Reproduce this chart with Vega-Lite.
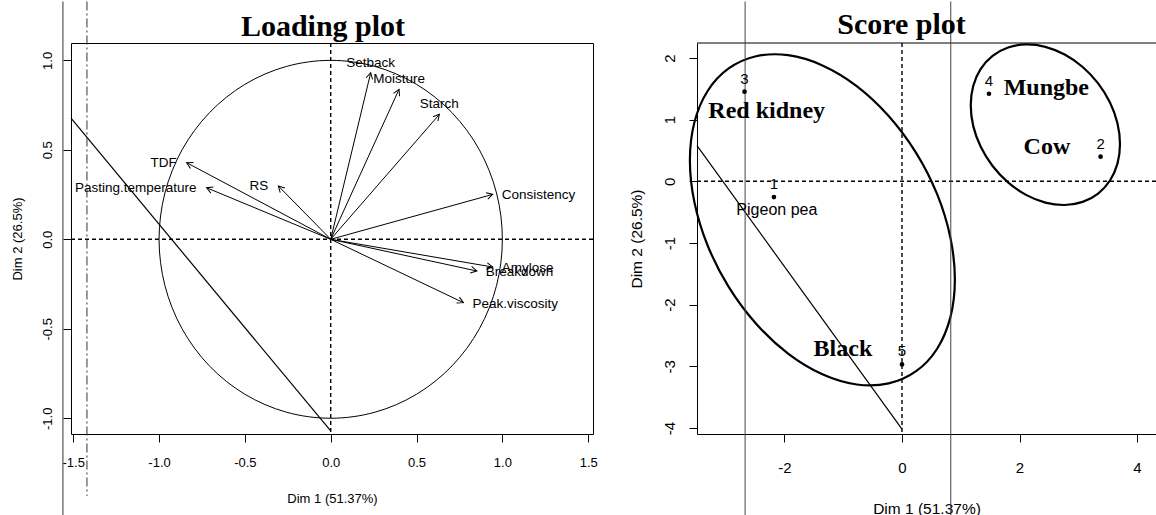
{
  "$schema": "https://vega.github.io/schema/vega-lite/v6.json",
  "padding": {"left": 11, "top": 0, "right": 0, "bottom": 0},
  "background": "white",
  "spacing": 104,
  "bounds": "flush",
  "config": {
    "view": {"stroke": "black", "strokeWidth": 1},
    "font": "Liberation Sans",
    "axis": {"grid": false, "domain": false, "tickColor": "black", "labelColor": "black", "titleColor": "black", "labelFont": "Liberation Sans", "titleFont": "Liberation Sans", "titleFontWeight": "normal", "labelFlush": false, "labelOverlap": false, "tickSize": 8, "tickWidth": 1, "domainColor": "black", "domainWidth": 1},
    "title": {"font": "Liberation Serif", "fontWeight": "bold", "color": "black"}
  },
  "datasets": {
    "zero": [{"v": 0}],
    "circle": [
      {"t": 0, "x": 1, "y": 0}, {"t": 15, "x": 0.9659, "y": 0.2588}, {"t": 30, "x": 0.866, "y": 0.5}, {"t": 45, "x": 0.7071, "y": 0.7071},
      {"t": 60, "x": 0.5, "y": 0.866}, {"t": 75, "x": 0.2588, "y": 0.9659}, {"t": 90, "x": 0, "y": 1}, {"t": 105, "x": -0.2588, "y": 0.9659},
      {"t": 120, "x": -0.5, "y": 0.866}, {"t": 135, "x": -0.7071, "y": 0.7071}, {"t": 150, "x": -0.866, "y": 0.5}, {"t": 165, "x": -0.9659, "y": 0.2588},
      {"t": 180, "x": -1, "y": 0}, {"t": 195, "x": -0.9659, "y": -0.2588}, {"t": 210, "x": -0.866, "y": -0.5}, {"t": 225, "x": -0.7071, "y": -0.7071},
      {"t": 240, "x": -0.5, "y": -0.866}, {"t": 255, "x": -0.2588, "y": -0.9659}, {"t": 270, "x": 0, "y": -1}, {"t": 285, "x": 0.2588, "y": -0.9659},
      {"t": 300, "x": 0.5, "y": -0.866}, {"t": 315, "x": 0.7071, "y": -0.7071}, {"t": 330, "x": 0.866, "y": -0.5}, {"t": 345, "x": 0.9659, "y": -0.2588}
    ],
    "vars": [
      {"name": "Setback", "x": 0.233, "y": 0.931},
      {"name": "Moisture", "x": 0.398, "y": 0.838},
      {"name": "Starch", "x": 0.633, "y": 0.698},
      {"name": "Consistency", "x": 0.944, "y": 0.251},
      {"name": "Amylose", "x": 0.944, "y": -0.155},
      {"name": "Breakdown", "x": 0.851, "y": -0.177},
      {"name": "Peak.viscosity", "x": 0.773, "y": -0.354},
      {"name": "TDF", "x": -0.839, "y": 0.428},
      {"name": "Pasting.temperature", "x": -0.723, "y": 0.288},
      {"name": "RS", "x": -0.305, "y": 0.298}
    ],
    "diagL": [{"x": -1.513, "y": 0.677, "x2": 0.0, "y2": -1.071}],
    "scanL": [{"x": -1.56, "y": 1.329, "x2": -1.56, "y2": -1.543}],
    "dashL": [{"x": -1.42, "y": 1.329, "x2": -1.42, "y2": -1.434}],
    "ellipses": [
      {"g": "A", "t": 0, "x": 0.9, "y": -1.592}, {"g": "A", "t": 15, "x": 0.823, "y": -0.911}, {"g": "A", "t": 30, "x": 0.598, "y": -0.209},
      {"g": "A", "t": 45, "x": 0.24, "y": 0.462}, {"g": "A", "t": 60, "x": -0.227, "y": 1.06}, {"g": "A", "t": 75, "x": -0.771, "y": 1.545},
      {"g": "A", "t": 90, "x": -1.355, "y": 1.88}, {"g": "A", "t": 105, "x": -1.939, "y": 2.045}, {"g": "A", "t": 120, "x": -2.483, "y": 2.028},
      {"g": "A", "t": 135, "x": -2.95, "y": 1.83}, {"g": "A", "t": 150, "x": -3.308, "y": 1.465}, {"g": "A", "t": 165, "x": -3.533, "y": 0.957},
      {"g": "A", "t": 180, "x": -3.61, "y": 0.342}, {"g": "A", "t": 195, "x": -3.533, "y": -0.339}, {"g": "A", "t": 210, "x": -3.308, "y": -1.041},
      {"g": "A", "t": 225, "x": -2.95, "y": -1.712}, {"g": "A", "t": 240, "x": -2.483, "y": -2.31}, {"g": "A", "t": 255, "x": -1.939, "y": -2.795},
      {"g": "A", "t": 270, "x": -1.355, "y": -3.13}, {"g": "A", "t": 285, "x": -0.771, "y": -3.295}, {"g": "A", "t": 300, "x": -0.227, "y": -3.278},
      {"g": "A", "t": 315, "x": 0.24, "y": -3.08}, {"g": "A", "t": 330, "x": 0.598, "y": -2.715}, {"g": "A", "t": 345, "x": 0.823, "y": -2.207},
      {"g": "B", "t": 0, "x": 3.71, "y": 0.603}, {"g": "B", "t": 15, "x": 3.667, "y": 0.941}, {"g": "B", "t": 30, "x": 3.54, "y": 1.277},
      {"g": "B", "t": 45, "x": 3.338, "y": 1.588}, {"g": "B", "t": 60, "x": 3.075, "y": 1.854}, {"g": "B", "t": 75, "x": 2.769, "y": 2.056},
      {"g": "B", "t": 90, "x": 2.44, "y": 2.181}, {"g": "B", "t": 105, "x": 2.111, "y": 2.22}, {"g": "B", "t": 120, "x": 1.805, "y": 2.17},
      {"g": "B", "t": 135, "x": 1.542, "y": 2.034}, {"g": "B", "t": 150, "x": 1.34, "y": 1.823}, {"g": "B", "t": 165, "x": 1.213, "y": 1.549},
      {"g": "B", "t": 180, "x": 1.17, "y": 1.233}, {"g": "B", "t": 195, "x": 1.213, "y": 0.895}, {"g": "B", "t": 210, "x": 1.34, "y": 0.559},
      {"g": "B", "t": 225, "x": 1.542, "y": 0.248}, {"g": "B", "t": 240, "x": 1.805, "y": -0.018}, {"g": "B", "t": 255, "x": 2.111, "y": -0.22},
      {"g": "B", "t": 270, "x": 2.44, "y": -0.345}, {"g": "B", "t": 285, "x": 2.769, "y": -0.384}, {"g": "B", "t": 300, "x": 3.075, "y": -0.334},
      {"g": "B", "t": 315, "x": 3.338, "y": -0.198}, {"g": "B", "t": 330, "x": 3.54, "y": 0.013}, {"g": "B", "t": 345, "x": 3.667, "y": 0.287}
    ],
    "scores": [
      {"id": "1", "x": -2.18, "y": -0.255},
      {"id": "2", "x": 3.38, "y": 0.4},
      {"id": "3", "x": -2.68, "y": 1.453},
      {"id": "4", "x": 1.48, "y": 1.42},
      {"id": "5", "x": 0.0, "y": -2.97}
    ],
    "groups": [
      {"label": "Red kidney", "x": -2.303, "y": 1.14},
      {"label": "Mungbe", "x": 2.456, "y": 1.508},
      {"label": "Cow", "x": 2.466, "y": 0.561},
      {"label": "Black", "x": -1.005, "y": -2.724}
    ],
    "pigeon": [{"label": "Pigeon pea", "x": -2.13, "y": -0.465}],
    "diagR": [{"x": -3.489, "y": 0.58, "x2": 0.0, "y2": -4.02}],
    "scanR": [
      {"x": -2.67, "y": 2.916, "x2": -2.67, "y2": -5.42},
      {"x": 0.83, "y": 2.916, "x2": 0.83, "y2": -5.42}
    ]
  },
  "hconcat": [
    {
      "width": 522,
      "height": 391,
      "title": {"text": "Loading plot", "fontSize": 30, "anchor": "middle", "frame": "group", "baseline": "alphabetic", "offset": -65, "dx": -9},
      "layer": [
        {
          "data": {"name": "zero"},
          "mark": {"type": "rule", "strokeDash": [4, 3], "strokeWidth": 1.4, "color": "black"},
          "encoding": {
            "x": {"field": "v", "type": "quantitative", "scale": {"domain": [-1.513, 1.528], "nice": false, "zero": false},
              "axis": {"values": [-1.5, -1, -0.5, 0, 0.5, 1, 1.5], "labelExpr": "replace(format(datum.value, '.1f'), '\u2212', '-')", "labelFontSize": 13, "labelPadding": 14.5, "title": "Dim 1 (51.37%)", "titleFontSize": 13, "titleY": 64, "titleBaseline": "middle"}}
          }
        },
        {
          "data": {"name": "zero"},
          "mark": {"type": "rule", "strokeDash": [4, 3], "strokeWidth": 1.4, "color": "black"},
          "encoding": {
            "y": {"field": "v", "type": "quantitative", "scale": {"domain": [-1.088, 1.097], "nice": false, "zero": false},
              "axis": {"values": [-1, -0.5, 0, 0.5, 1], "labelExpr": "replace(format(datum.value, '.1f'), '\u2212', '-')", "labelFontSize": 13, "labelAngle": 270, "labelAlign": "center", "labelBaseline": "bottom", "labelPadding": 9, "title": "Dim 2 (26.5%)", "titleFontSize": 13, "titleX": -53.5, "titleBaseline": "middle"}}
          }
        },
        {
          "data": {"name": "circle"},
          "mark": {"type": "line", "interpolate": "cardinal-closed", "color": "black", "strokeWidth": 1},
          "encoding": {
            "x": {"field": "x", "type": "quantitative", "scale": {"domain": [-1.513, 1.528], "nice": false, "zero": false}},
            "y": {"field": "y", "type": "quantitative", "scale": {"domain": [-1.088, 1.097], "nice": false, "zero": false}},
            "order": {"field": "t", "type": "quantitative"}
          }
        },
        {
          "data": {"name": "vars"},
          "mark": {"type": "rule", "color": "black", "strokeWidth": 1},
          "encoding": {
            "x": {"field": "x", "type": "quantitative"},
            "y": {"field": "y", "type": "quantitative"},
            "x2": {"datum": 0},
            "y2": {"datum": 0}
          }
        },
        {
          "data": {"name": "vars"},
          "transform": [{"calculate": "atan2(datum.x * 171.65, datum.y * 178.95) * 180 / PI", "as": "ang"}],
          "mark": {"type": "point", "shape": "M-0.55,1L0,0L0.55,1", "filled": false, "stroke": "black", "strokeWidth": 1, "size": 144, "opacity": 1},
          "encoding": {
            "x": {"field": "x", "type": "quantitative"},
            "y": {"field": "y", "type": "quantitative"},
            "angle": {"field": "ang", "type": "quantitative", "scale": null}
          }
        },
        {
          "data": {"name": "vars"},
          "transform": [{"filter": {"field": "name", "oneOf": ["Setback", "Moisture", "Starch"]}}],
          "mark": {"type": "text", "align": "center", "baseline": "alphabetic", "dy": -6, "fontSize": 13.5, "font": "Liberation Sans", "color": "black"},
          "encoding": {
            "x": {"field": "x", "type": "quantitative"},
            "y": {"field": "y", "type": "quantitative"},
            "text": {"field": "name"}
          }
        },
        {
          "data": {"name": "vars"},
          "transform": [{"filter": {"field": "name", "oneOf": ["Consistency", "Amylose", "Breakdown", "Peak.viscosity"]}}],
          "mark": {"type": "text", "align": "left", "baseline": "middle", "dx": 9, "dy": 1, "fontSize": 13.5, "font": "Liberation Sans", "color": "black"},
          "encoding": {
            "x": {"field": "x", "type": "quantitative"},
            "y": {"field": "y", "type": "quantitative"},
            "text": {"field": "name"}
          }
        },
        {
          "data": {"name": "vars"},
          "transform": [{"filter": {"field": "name", "oneOf": ["TDF", "Pasting.temperature", "RS"]}}],
          "mark": {"type": "text", "align": "right", "baseline": "middle", "dx": -10, "fontSize": 13.5, "font": "Liberation Sans", "color": "black"},
          "encoding": {
            "x": {"field": "x", "type": "quantitative"},
            "y": {"field": "y", "type": "quantitative"},
            "text": {"field": "name"}
          }
        },
        {
          "data": {"name": "diagL"},
          "mark": {"type": "rule", "color": "black", "strokeWidth": 1.2},
          "encoding": {
            "x": {"field": "x", "type": "quantitative"},
            "y": {"field": "y", "type": "quantitative"},
            "x2": {"field": "x2"},
            "y2": {"field": "y2"}
          }
        },
        {
          "data": {"name": "scanL"},
          "mark": {"type": "rule", "color": "#333333", "strokeWidth": 1},
          "encoding": {
            "x": {"field": "x", "type": "quantitative"},
            "y": {"field": "y", "type": "quantitative"},
            "x2": {"field": "x2"},
            "y2": {"field": "y2"}
          }
        },
        {
          "data": {"name": "dashL"},
          "mark": {"type": "rule", "color": "#333333", "strokeWidth": 1, "strokeDash": [9, 3, 2, 3]},
          "encoding": {
            "x": {"field": "x", "type": "quantitative"},
            "y": {"field": "y", "type": "quantitative"},
            "x2": {"field": "x2"},
            "y2": {"field": "y2"}
          }
        }
      ]
    },
    {
      "width": 459,
      "height": 391,
      "view": {"stroke": null},
      "title": {"text": "Score plot", "fontSize": 30, "anchor": "middle", "frame": "group", "baseline": "alphabetic", "offset": -63, "dx": -25},
      "layer": [
        {
          "data": {"name": "zero"},
          "mark": {"type": "rule", "strokeDash": [4, 3], "strokeWidth": 1.4, "color": "black"},
          "encoding": {
            "x": {"field": "v", "type": "quantitative", "scale": {"domain": [-3.489, 4.323], "nice": false, "zero": false},
              "axis": {"values": [-2, 0, 2, 4], "domain": true, "labelExpr": "replace(format(datum.value, 'd'), '\u2212', '-')", "labelFontSize": 15, "labelPadding": 18.5, "title": "Dim 1 (51.37%)", "titleFontSize": 15.5, "titleY": 74, "titleBaseline": "middle"}}
          }
        },
        {
          "data": {"name": "zero"},
          "mark": {"type": "rule", "strokeDash": [4, 3], "strokeWidth": 1.4, "color": "black"},
          "encoding": {
            "y": {"field": "v", "type": "quantitative", "scale": {"domain": [-4.098, 2.243], "nice": false, "zero": false},
              "axis": {"values": [-4, -3, -2, -1, 0, 1, 2], "domain": true, "labelExpr": "replace(format(datum.value, 'd'), '\u2212', '-')", "labelFontSize": 15, "labelAngle": 270, "labelAlign": "center", "labelBaseline": "bottom", "labelPadding": 12, "title": "Dim 2 (26.5%)", "titleFontSize": 15.5, "titleX": -61, "titleBaseline": "middle"}}
          }
        },
        {
          "data": {"name": "zero"},
          "mark": {"type": "rule", "color": "black", "strokeWidth": 1},
          "encoding": {
            "y": {"datum": 2.243, "type": "quantitative"}
          }
        },
        {
          "data": {"name": "ellipses"},
          "mark": {"type": "line", "interpolate": "cardinal-closed", "color": "black", "strokeWidth": 2.2},
          "encoding": {
            "x": {"field": "x", "type": "quantitative"},
            "y": {"field": "y", "type": "quantitative"},
            "detail": {"field": "g"},
            "order": {"field": "t", "type": "quantitative"}
          }
        },
        {
          "data": {"name": "diagR"},
          "mark": {"type": "rule", "color": "black", "strokeWidth": 1.2},
          "encoding": {
            "x": {"field": "x", "type": "quantitative"},
            "y": {"field": "y", "type": "quantitative"},
            "x2": {"field": "x2"},
            "y2": {"field": "y2"}
          }
        },
        {
          "data": {"name": "scanR"},
          "mark": {"type": "rule", "color": "#444444", "strokeWidth": 1},
          "encoding": {
            "x": {"field": "x", "type": "quantitative"},
            "y": {"field": "y", "type": "quantitative"},
            "x2": {"field": "x2"},
            "y2": {"field": "y2"}
          }
        },
        {
          "data": {"name": "scores"},
          "mark": {"type": "point", "filled": true, "color": "black", "size": 22, "opacity": 1},
          "encoding": {
            "x": {"field": "x", "type": "quantitative"},
            "y": {"field": "y", "type": "quantitative"}
          }
        },
        {
          "data": {"name": "scores"},
          "mark": {"type": "text", "align": "center", "baseline": "alphabetic", "dy": -8, "fontSize": 15, "font": "Liberation Sans", "color": "black"},
          "encoding": {
            "x": {"field": "x", "type": "quantitative"},
            "y": {"field": "y", "type": "quantitative"},
            "text": {"field": "id"}
          }
        },
        {
          "data": {"name": "groups"},
          "mark": {"type": "text", "align": "center", "baseline": "middle", "fontSize": 24, "font": "Liberation Serif", "fontWeight": "bold", "color": "black"},
          "encoding": {
            "x": {"field": "x", "type": "quantitative"},
            "y": {"field": "y", "type": "quantitative"},
            "text": {"field": "label"}
          }
        },
        {
          "data": {"name": "pigeon"},
          "mark": {"type": "text", "align": "center", "baseline": "middle", "fontSize": 16, "font": "Liberation Sans", "color": "black"},
          "encoding": {
            "x": {"field": "x", "type": "quantitative"},
            "y": {"field": "y", "type": "quantitative"},
            "text": {"field": "label"}
          }
        }
      ]
    }
  ]
}
